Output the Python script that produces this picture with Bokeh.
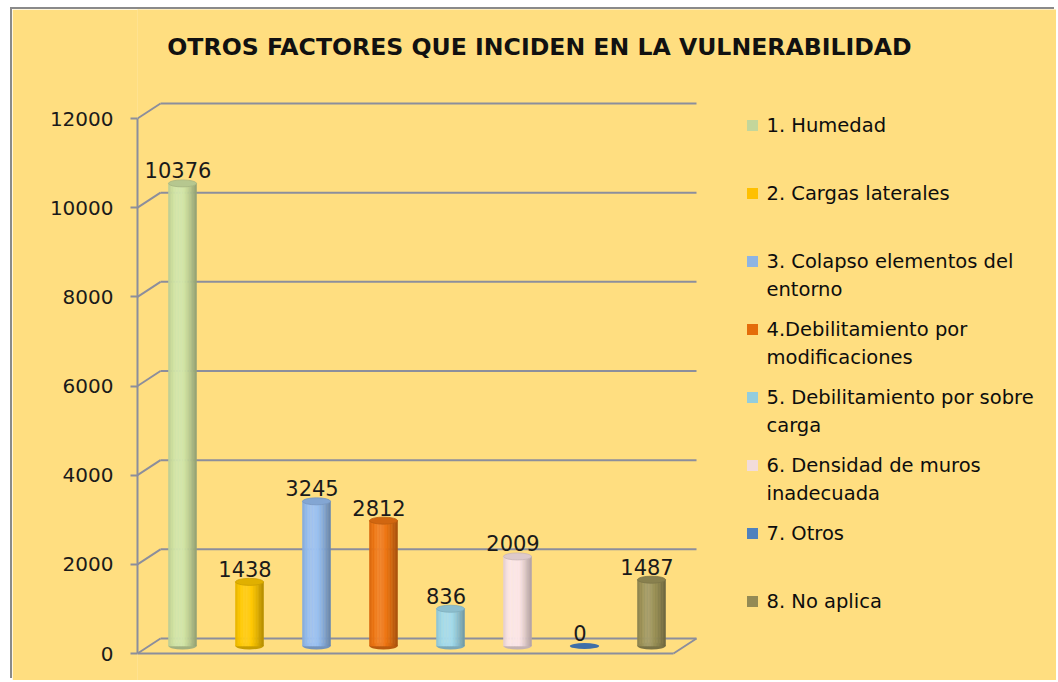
import math
from bokeh.plotting import figure
from bokeh.models import Range1d, FixedTicker, NumeralTickFormatter
from bokeh.embed import file_html
from bokeh.resources import INLINE
from bokeh.core.properties import value

# ---------------- data ----------------
title_text = "OTROS FACTORES QUE INCIDEN EN LA VULNERABILIDAD"
categories = ["1. Humedad", "2. Cargas laterales", "3. Colapso elementos del entorno",
              "4.Debilitamiento por modificaciones", "5. Debilitamiento por sobre carga",
              "6. Densidad de muros inadecuada", "7. Otros", "8. No aplica"]
legend_lines = [["1. Humedad"], ["2. Cargas laterales"],
                ["3. Colapso elementos del", "entorno"],
                ["4.Debilitamiento por", "modificaciones"],
                ["5. Debilitamiento por sobre", "carga"],
                ["6. Densidad de muros", "inadecuada"],
                ["7. Otros"], ["8. No aplica"]]
values = [10376, 1438, 3245, 2812, 836, 2009, 0, 1487]
y_ticks = [0, 2000, 4000, 6000, 8000, 10000, 12000]
bar_colors = ["#CFE2A3", "#FFC800", "#95BDF0", "#EE7412", "#9FD8EA", "#FBE4E6", "#3F6FA8", "#9B9259"]
legend_colors = ["#C3D69B", "#FFC000", "#8EB4E3", "#E46C0A", "#93CDDD", "#F2DCDB", "#4F81BD", "#948A54"]

# ---------------- layout constants ----------------
BG = "#FFDE80"
GRID = "#8C8E9C"
TXT = "#1A1A1A"
OX, OY = 12, 9             # canvas origin in the picture
W, H = 1044, 671
FRAME_LEFT = 137           # picture x of value axis
SLOT = 67.0                # px per category slot
Y0 = 653                   # picture y of value 0 (front)
PPU = 535.0 / 12000        # px per value unit


def sx(px):
    return px / SLOT


def sy(px):
    return px / PPU


def page_x(px):
    return (px - FRAME_LEFT) / SLOT


def page_y(py):
    return (Y0 - py) / PPU


depth_x, depth_y = sx(23), sy(15)
n = len(values)
y_lo, y_hi = page_y(OY + H), page_y(OY)

p = figure(width=W, height=H, output_backend="svg", toolbar_location=None,
           x_range=Range1d(0, page_x(OX + W)), y_range=Range1d(y_lo, y_hi),
           x_axis_location=None, min_border_left=FRAME_LEFT - OX, min_border_right=0,
           min_border_top=0, min_border_bottom=0)
p.margin = (OY, 0, 0, OX)
p.styles = {"box-shadow": "-2px -2px 0px 0px #8A8A8A"}
p.background_fill_color = BG
p.border_fill_color = BG
p.outline_line_color = None
p.xgrid.visible = False
p.ygrid.visible = False

ax = p.yaxis[0]
ax.ticker = FixedTicker(ticks=y_ticks)
ax.bounds = (0, 12000)
ax.formatter = NumeralTickFormatter(format="0")
ax.axis_line_color = GRID
ax.axis_line_width = 2
ax.major_tick_line_color = GRID
ax.major_tick_line_width = 2
ax.major_tick_out = 7
ax.major_tick_in = 0
ax.minor_tick_line_color = None
ax.major_label_standoff = 17
ax.major_label_text_font = "DejaVu Sans"
ax.major_label_text_font_size = "20px"
ax.major_label_text_color = TXT

# cover the hairline seam at the frame's left edge
p.segment([0, 0], [y_lo, 12000], [0, 0], [0, y_hi], line_color=BG, line_width=4)

# walls: back gridlines, side diagonals, floor
x0s, y0s, x1s, y1s = [], [], [], []
for t in y_ticks:
    x0s += [depth_x, 0]
    y0s += [t + depth_y, t]
    x1s += [n + depth_x, depth_x]
    y1s += [t + depth_y, t + depth_y]
x0s += [0, n]
y0s += [0, 0]
x1s += [n, n + depth_x]
y1s += [0, depth_y]
p.segment(x0s, y0s, x1s, y1s, line_color=GRID, line_width=2)


def hex2rgb(h):
    h = h.lstrip("#")
    return [int(h[i:i + 2], 16) for i in (0, 2, 4)]


def shade(h, s):
    r = hex2rgb(h)
    if s >= 1:
        out = [c + (255 - c) * min(1, (s - 1) * 2.2) for c in r]
    else:
        out = [c * s for c in r]
    return "#%02x%02x%02x" % tuple(int(max(0, min(255, round(c)))) for c in out)


bw = sx(28)
eh = sy(7)
NS = 18
for i, v in enumerate(values):
    cx = i + 0.5 + depth_x / 2
    base = depth_y / 2
    top = v + depth_y / 2
    col = bar_colors[i]
    if v > 0:
        p.ellipse(x=[cx], y=[base], width=bw, height=eh, fill_color=shade(col, 0.78), line_color=None)
        ls, rs, cs = [], [], []
        for k in range(NS):
            t = (k + 0.5) / NS
            s = 0.80 + 0.25 * math.cos(math.pi * (t - 0.38))
            ls.append(cx - bw / 2 + k * bw / NS)
            rs.append(cx - bw / 2 + (k + 1) * bw / NS)
            cs.append(shade(col, s))
        p.quad(left=ls, right=rs, bottom=[base] * NS, top=[top] * NS,
               fill_color=cs, line_color=cs, line_width=0.6)
        p.ellipse(x=[cx], y=[top], width=bw, height=eh, fill_color=shade(col, 0.88),
                  line_color=shade(col, 0.8), line_width=0.8)
    else:
        p.ellipse(x=[cx], y=[base], width=bw * 1.05, height=sy(6), fill_color=col, line_color=None)
    p.text(x=[cx - sx(4.5)], y=[top], text=[str(v)], y_offset=-13,
           text_align="center", text_baseline="alphabetic",
           text_font=value("DejaVu Sans"), text_font_size="21px", text_color=TXT)

# title
p.text(x=[page_x(539)], y=[page_y(46)], text=[title_text], text_align="center",
       text_baseline="middle", text_font=value("DejaVu Sans"), text_font_style="bold",
       text_font_size="23.6px", text_color="#111111")

# legend
for i, lines in enumerate(legend_lines):
    yc = 125 + 68 * i
    p.scatter(x=[page_x(752)], y=[page_y(yc)], marker="square", size=11,
              fill_color=legend_colors[i], line_color=None)
    for j, ln in enumerate(lines):
        p.text(x=[page_x(766)], y=[page_y(yc + 28 * j)], text=[ln], text_align="left",
               text_baseline="middle", text_font=value("DejaVu Sans"),
               text_font_size="19.5px", text_color="#0D0D0D")

open("out.html", "w").write(file_html(p, INLINE))
